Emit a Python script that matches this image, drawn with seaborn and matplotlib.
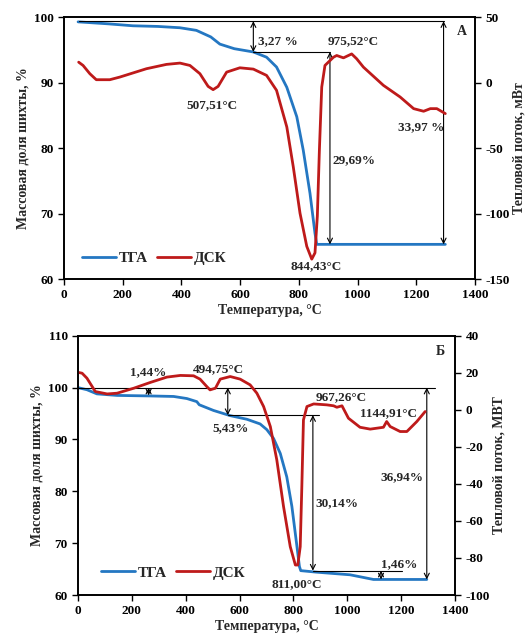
import numpy as np
import pandas as pd
import matplotlib
matplotlib.use('Agg')
import matplotlib.pyplot as plt
import seaborn as sns

# panel A: TGA (mass %, left axis) and DSC (heat flow, right axis)
tga_a_t = [48, 150, 235, 320, 395, 451, 500, 531, 580, 645, 690, 724, 759, 793,
           815, 838, 855, 861, 1000, 1150, 1299]
tga_a_w = [99.3, 99.0, 98.7, 98.6, 98.4, 98.0, 97.0, 95.9, 95.2, 94.7, 93.9, 92.4,
           89.3, 84.8, 79.7, 73.1, 67.0, 65.3, 65.3, 65.3, 65.3]
dsc_a_t = [50, 65, 88, 110, 156, 190, 281, 349, 395, 429, 463, 491, 508, 525, 554,
           599, 645, 690, 724, 759, 781, 804, 827, 844, 855, 863, 870, 878, 889,
           918, 929, 952, 980, 997, 1020, 1088, 1145, 1191, 1225, 1248, 1270, 1299]
dsc_a_q = [15.7, 13.2, 6.9, 2.3, 2.3, 4.3, 10.7, 14.0, 15.0, 13.2, 6.9, -2.8, -5.3,
           -2.8, 8.1, 11.4, 10.4, 5.6, -5.8, -33.8, -64.2, -99.7, -125, -134.8,
           -130, -102, -51.5, -3.3, 13.2, 19.5, 20.8, 19.0, 22.0, 18.3, 11.9, -2.0,
           -10.9, -19.8, -21.8, -19.8, -19.8, -23.6]

# panel B
tga_b_t = [0, 33, 70, 145, 268, 355, 404, 441, 450, 503, 565, 627, 676, 701, 726,
           751, 775, 794, 813, 822, 827, 887, 1010, 1097, 1295]
tga_b_w = [100, 99.6, 98.8, 98.5, 98.4, 98.3, 97.9, 97.3, 96.7, 95.6, 94.6, 93.9,
           93.0, 91.9, 90.2, 87.3, 82.8, 77.1, 69.3, 65.5, 64.7, 64.4, 63.9, 63.0, 63.0]
dsc_b_t = [2, 15, 33, 64, 108, 145, 207, 268, 330, 380, 429, 453, 478, 490, 510, 528,
           565, 602, 639, 664, 689, 714, 738, 763, 788, 807, 816, 825, 831, 837, 850,
           875, 924, 949, 961, 980, 1004, 1047, 1085, 1134, 1146, 1159, 1196, 1221,
           1258, 1289]
dsc_b_q = [20.2, 19.8, 17.1, 9.9, 8.6, 9.0, 11.7, 14.8, 17.7, 18.6, 18.4, 16.6, 12.6,
           10.8, 11.7, 16.6, 18.0, 16.6, 13.5, 9.0, 1.8, -9.0, -27.0, -52.2, -73.9,
           -83.8, -83.8, -73.9, -41.4, -5.4, 1.8, 3.2, 2.7, 2.2, 1.4, 2.2, -4.5, -9.4,
           -10.4, -9.4, -6.3, -9.0, -11.7, -11.7, -6.3, -0.9]

# annotations: (text, x, y) in left-axis units
labels_a = [('3,27 %', 662, 96.4, 'left'), ('975,52°C', 984, 96.4, 'center'),
            ('507,51°C', 503, 86.5, 'center'), ('844,43°C', 859, 62.0, 'center'),
            ('29,69%', 988, 78.2, 'center'), ('33,97 %', 1216, 83.2, 'center'),
            ('А', 1356, 97.9, 'center')]
labels_b = [('1,44%', 262, 102.9, 'center'), ('494,75°C', 522, 103.6, 'center'),
            ('5,43%', 565, 92.2, 'center'), ('967,26°C', 976, 98.2, 'center'),
            ('1144,91°C', 1153, 95.1, 'center'), ('36,94%', 1202, 82.7, 'center'),
            ('30,14%', 963, 77.8, 'center'), ('811,00°C', 812, 62.1, 'center'),
            ('1,46%', 1193, 66.0, 'center'), ('Б', 1344, 107.0, 'center')]
# horizontal guide lines (x0, x1, y) and vertical arrows (x, y0, y1)
hlines_a = [(50, 1293, 99.4), (645, 906, 94.7)]
arrows_a = [(645, 99.4, 94.7), (906, 94.7, 65.3), (1293, 99.4, 65.3)]
hlines_b = [(0, 1326, 100.0), (556, 893, 94.7), (872, 1202, 64.7)]
arrows_b = [(556, 100.0, 94.7), (872, 94.7, 64.7), (1295, 100.0, 63.0),
            (262, 100.0, 98.5), (1125, 64.7, 63.0)]

BLUE = '#2477c2'
RED = '#be1a1a'

sns.set_style('ticks')
plt.rcParams['font.family'] = ['Liberation Serif', 'DejaVu Serif']
plt.rcParams['font.weight'] = 'bold'
plt.rcParams['axes.labelweight'] = 'bold'
plt.rcParams['axes.linewidth'] = 1.2
plt.rcParams['axes.unicode_minus'] = False
plt.rcParams['xtick.direction'] = 'out'
plt.rcParams['ytick.direction'] = 'out'


def panel(fig, rect, tga_t, tga_w, dsc_t, dsc_q, ylim, rlim, rstep, yticks,
          labels, hlines, arrows, rlabel, leg_xy):
    ax = fig.add_axes(rect)
    ax2 = ax.twinx()
    sns.lineplot(x=tga_t, y=tga_w, ax=ax, color=BLUE, lw=2.0, label='ТГА', legend=False)
    sns.lineplot(x=dsc_t, y=dsc_q, ax=ax2, color=RED, lw=2.0, label='ДСК', legend=False)
    ax.set_xlim(0, 1400)
    ax.set_ylim(*ylim)
    ax.set_yticks(yticks)
    ax.set_xticks(range(0, 1401, 200))
    ax2.set_ylim(*rlim)
    ax2.set_yticks(np.arange(rlim[0], rlim[1] + 1, rstep))
    for a in (ax, ax2):
        a.tick_params(labelsize=9.5, length=4, width=1, colors='k')
        for s in a.spines.values():
            s.set_color('k')
            s.set_linewidth(1.2)
    ax.set_xlabel('Температура, °С', fontsize=10, labelpad=2)
    ax.set_ylabel('Массовая доля шихты, %', fontsize=10, labelpad=3)
    ax2.set_ylabel(rlabel, fontsize=10, labelpad=2)
    for x0, x1, y in hlines:
        ax2.plot([x0, x1], [ax2.transData.inverted().transform(ax.transData.transform((0, y)))[1]] * 2,
                 color='k', lw=0.8, zorder=1)
    for x, y0, y1 in arrows:
        ax.annotate('', xy=(x, y1), xytext=(x, y0),
                    arrowprops=dict(arrowstyle='<->', lw=0.8, color='k',
                                    shrinkA=0, shrinkB=0, mutation_scale=9))
    for txt, x, y, ha in labels:
        ax2.text(x, y, txt, transform=ax.transData, ha=ha, va='center',
                 fontsize=10 if txt in ('А', 'Б') else 9.5, zorder=5)
    h1, l1 = ax.get_legend_handles_labels()
    h2, l2 = ax2.get_legend_handles_labels()
    ax2.legend(h1 + h2, l1 + l2, loc='lower left', bbox_to_anchor=leg_xy, ncol=2,
               frameon=False, fontsize=11, handlelength=2.2, handletextpad=0.2,
               columnspacing=0.6, borderaxespad=0)
    return ax, ax2


fig = plt.figure(figsize=(5.31, 6.4), dpi=100)
panel(fig, [0.1205, 0.564, 0.774, 0.409], tga_a_t, tga_a_w, dsc_a_t, dsc_a_q,
      (60, 100), (-150, 50), 50, range(60, 101, 10), labels_a, hlines_a, arrows_a,
      'Тепловой поток, мВт', (0.03, 0.03))
panel(fig, [0.147, 0.0703, 0.710, 0.405], tga_b_t, tga_b_w, dsc_b_t, dsc_b_q,
      (60, 110), (-100, 40), 20, range(60, 111, 10), labels_b, hlines_b, arrows_b,
      'Тепловой поток, МВТ', (0.045, 0.035))
fig.savefig('out.png', dpi=100)
